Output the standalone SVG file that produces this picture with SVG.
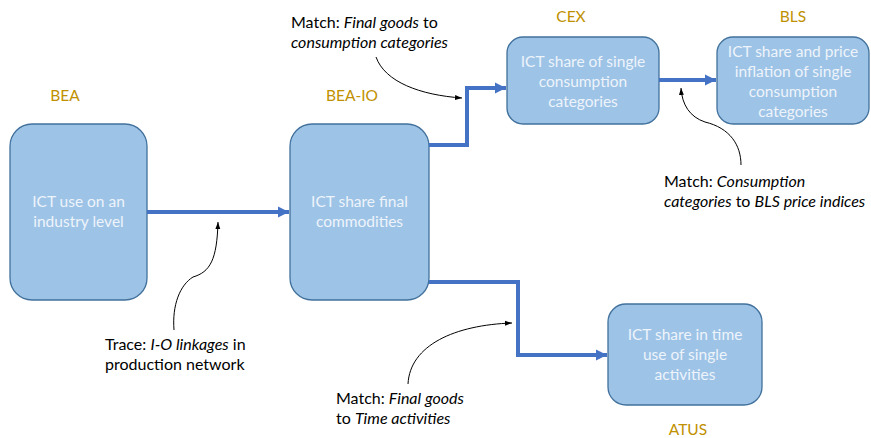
<svg xmlns="http://www.w3.org/2000/svg" width="871" height="438" viewBox="0 0 871 438">
<defs>
<style>
.box{fill:#9DC3E6;stroke:#41719C;stroke-width:1.3}
.bt{font-family:Lato,"Open Sans",sans-serif;font-size:15.5px;fill:#EEF4FB;text-anchor:middle}
.src{font-family:Lato,"Open Sans",sans-serif;font-size:15.5px;fill:#BF9000;text-anchor:middle}
.note{font-family:Lato,"Open Sans",sans-serif;font-size:16px;fill:#000}
.flow{fill:none;stroke:#4472C4;stroke-width:4}
.call{fill:none;stroke:#000;stroke-width:1}
</style>
<marker id="ab" viewBox="0 0 10 10" refX="10" refY="5" markerWidth="2.8" markerHeight="3" orient="auto" markerUnits="strokeWidth"><path d="M0,0 L10,5 L0,10 z" fill="#4472C4"/></marker>
<marker id="ak" viewBox="0 0 10 10" refX="10" refY="5" markerWidth="7" markerHeight="7" orient="auto" markerUnits="userSpaceOnUse"><path d="M0,1.5 L10,5 L0,8.5 z" fill="#000"/></marker>
</defs>

<text class="src" x="65" y="101">BEA</text>
<text class="src" x="352" y="101">BEA-IO</text>
<text class="src" x="571" y="22">CEX</text>
<text class="src" x="793" y="22">BLS</text>
<text class="src" x="688" y="435">ATUS</text>

<g id="n-bea">
<rect class="box" x="10" y="124" width="137" height="176" rx="22"/>
<text class="bt" x="78.5" y="207">ICT use on an</text>
<text class="bt" x="78.5" y="227">industry level</text>
</g>
<g id="n-beaio">
<rect class="box" x="290" y="124" width="139" height="176" rx="22"/>
<text class="bt" x="359.5" y="207">ICT share final</text>
<text class="bt" x="359.5" y="227">commodities</text>
</g>
<g id="n-cex">
<rect class="box" x="507" y="37" width="152" height="87" rx="16"/>
<text class="bt" x="583" y="67">ICT share of single</text>
<text class="bt" x="583" y="87">consumption</text>
<text class="bt" x="583" y="107">categories</text>
</g>
<g id="n-bls">
<rect class="box" x="717" y="37" width="152" height="87" rx="16"/>
<text class="bt" x="793" y="57">ICT share and price</text>
<text class="bt" x="793" y="77">inflation of single</text>
<text class="bt" x="793" y="97">consumption</text>
<text class="bt" x="793" y="117">categories</text>
</g>
<g id="n-atus">
<rect class="box" x="608" y="304" width="154" height="101" rx="18"/>
<text class="bt" x="685" y="340">ICT share in time</text>
<text class="bt" x="685" y="360">use of single</text>
<text class="bt" x="685" y="380">activities</text>
</g>

<g id="connectors">
<path class="flow" d="M147,212 H289" marker-end="url(#ab)"/>
<path class="flow" d="M429,145 H467 V88 H506" marker-end="url(#ab)"/>
<path class="flow" d="M659,80 H716" marker-end="url(#ab)"/>
<path class="flow" d="M429,282 H518 V355 H607" marker-end="url(#ab)"/>
<path class="call" d="M376,57 C385,82 420,95 462,98" marker-end="url(#ak)"/>
<path class="call" d="M741,165 C741,145 730,128 705,122 C690,117 682,105 681,88" marker-end="url(#ak)"/>
<path class="call" d="M174,330 C172,305 180,285 193,277 C210,272 217,260 218,222" marker-end="url(#ak)"/>
<path class="call" d="M408,384 C410,345 455,325 512,323" marker-end="url(#ak)"/>
</g>

<g id="notes">
<text class="note" x="291" y="28">Match: <tspan font-style="italic">Final goods</tspan> to</text>
<text class="note" x="291" y="48" font-style="italic">consumption categories</text>
<text class="note" x="664" y="187">Match: <tspan font-style="italic">Consumption</tspan></text>
<text class="note" x="664" y="207"><tspan font-style="italic">categories</tspan> to <tspan font-style="italic">BLS price indices</tspan></text>
<text class="note" x="105" y="350">Trace: <tspan font-style="italic">I-O linkages</tspan> in</text>
<text class="note" x="105" y="370">production network</text>
<text class="note" x="336" y="404">Match: <tspan font-style="italic">Final goods</tspan></text>
<text class="note" x="336" y="424">to <tspan font-style="italic">Time activities</tspan></text>
</g>
</svg>
